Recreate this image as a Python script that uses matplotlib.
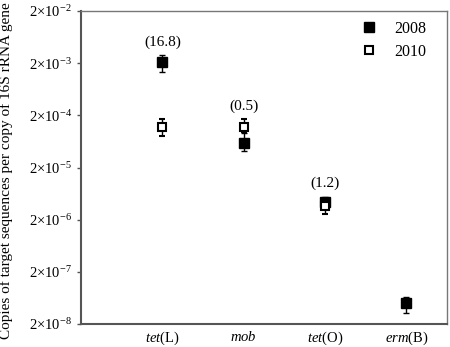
import numpy as np
import matplotlib
matplotlib.use("Agg")
import matplotlib.pyplot as plt
from matplotlib.lines import Line2D
from matplotlib.ticker import FixedLocator, FixedFormatter, NullLocator

plt.rcParams['font.family'] = ['Liberation Serif', 'DejaVu Serif']
plt.rcParams['mathtext.fontset'] = 'custom'
plt.rcParams['mathtext.rm'] = 'Liberation Serif'
plt.rcParams['mathtext.it'] = 'Liberation Serif:italic'

genes = [r'$\mathit{tet}$(L)', r'$\mathit{mob}$', r'$\mathit{tet}$(O)', r'$\mathit{erm}$(B)']
ratios = ['(16.8)', '(0.5)', '(1.2)', None]

# 2008 (filled)
y2008 = [2.1e-3, 6.0e-5, 4.4e-6, 5.0e-8]
lo2008 = [1.34e-3, 4.07e-5, 3.5e-6, 3.24e-8]
hi2008 = [2.85e-3, 9.0e-5, 5.5e-6, 6.5e-8]
# 2010 (open), no value for erm(B)
y2010 = [1.2e-4, 1.2e-4, 3.7e-6]
lo2010 = [7.9e-5, 9.4e-5, 2.6e-6]
hi2010 = [1.67e-4, 1.67e-4, 4.5e-6]

yticks = [2e-8, 2e-7, 2e-6, 2e-5, 2e-4, 2e-3, 2e-2]
ytick_labels = [r'2×10$^{\mathregular{%d}}$' % e for e in range(-8, -1)]

fig = plt.figure(figsize=(4.5, 3.47), dpi=100)
ax = fig.add_axes([81/450, 1-324/347, 366/450, 313/347])

x = np.arange(1, len(genes) + 1)
y1 = np.array(y2008)
ax.errorbar(x, y1, yerr=[y1 - np.array(lo2008), np.array(hi2008) - y1],
            fmt='s', color='black', ms=6.5, ecolor='black', elinewidth=1,
            capsize=2.5, capthick=1, zorder=3)
x2 = x[:len(y2010)]
y2 = np.array(y2010)
ax.errorbar(x2, y2, yerr=[y2 - np.array(lo2010), np.array(hi2010) - y2],
            fmt='s', mfc='white', mec='black', mew=1.5, ms=6, ecolor='black',
            elinewidth=1, capsize=2.5, capthick=1, zorder=4)

for xi, r, hi in zip(x, ratios, hi2008):
    if r is None:
        continue
    top = max(hi, hi2010[xi - 1])
    ax.annotate(r, (xi, top), xytext=(0, 4.5), textcoords='offset points',
                ha='center', va='bottom', fontsize=11)

ax.set_yscale('log')
ax.set_ylim(2e-8, 2e-2)
ax.set_xlim(0, 4.5)
ax.yaxis.set_major_locator(FixedLocator(yticks))
ax.yaxis.set_major_formatter(FixedFormatter(ytick_labels))
ax.yaxis.set_minor_locator(NullLocator())
ax.set_xticks(x)
ax.set_xticklabels(genes)
ax.tick_params(axis='x', length=0, labelsize=10.5, pad=4)
ax.tick_params(axis='y', length=3, width=1, labelsize=10.5, color='#555555')

for s in ['left', 'bottom']:
    ax.spines[s].set_color('#555555')
    ax.spines[s].set_linewidth(1.5)
for s in ['top', 'right']:
    ax.spines[s].set_color('#777777')
    ax.spines[s].set_linewidth(1)

ax.set_ylabel('Copies of target sequences per copy of 16S rRNA gene', fontsize=11)
ax.yaxis.set_label_coords(-0.186, 0.49)

handles = [Line2D([], [], ls='none', marker='s', color='black', ms=6.5),
           Line2D([], [], ls='none', marker='s', mfc='white', mec='black', mew=1.5, ms=6)]
ax.legend(handles, ['2008', '2010'], loc='upper right', frameon=False, fontsize=11.5,
          handletextpad=0.6, borderaxespad=0.3, labelspacing=0.45,
          bbox_to_anchor=(0.975, 1.005))

fig.savefig('out.png', dpi=100)
